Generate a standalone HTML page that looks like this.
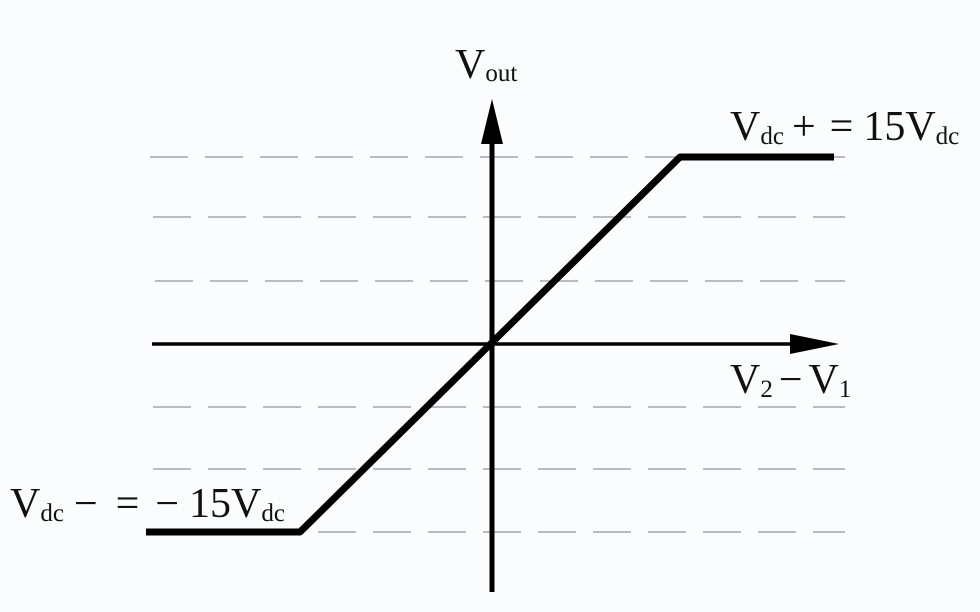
<!DOCTYPE html>
<html><head><style>
html,body{margin:0;padding:0;background:#fbfcfd;}
svg{display:block}
text{font-family:"Liberation Serif",serif;fill:#111;}
</style></head><body>
<svg width="980" height="612" viewBox="0 0 980 612">
<rect width="980" height="612" fill="#fbfcfd"/>
<g stroke="#b8bcc0" stroke-width="2" stroke-dasharray="38 17">
<line x1="150" y1="157" x2="845" y2="157"/>
<line x1="153" y1="217" x2="845" y2="217"/>
<line x1="155" y1="281" x2="845" y2="281"/>
<line x1="153" y1="407" x2="845" y2="407"/>
<line x1="153" y1="469" x2="845" y2="469"/>
<line x1="318" y1="532" x2="845" y2="532"/>
</g>
<line x1="492" y1="140" x2="492" y2="592" stroke="#000" stroke-width="5"/>
<polygon points="492,99 481,144 503,144" fill="#000"/>
<line x1="152" y1="344" x2="795" y2="344" stroke="#000" stroke-width="3.5"/>
<polygon points="839,344 790,334 790,354" fill="#000"/>
<polyline points="146,532 300,532 680,157 834,157" fill="none" stroke="#000" stroke-width="7" stroke-linejoin="round"/>
<text x="455" y="78" font-size="42">V<tspan font-size="25" dy="3">out</tspan></text>
<text x="730" y="140" font-size="42">V<tspan font-size="25" dy="4">dc</tspan><tspan dy="-4" dx="8">+</tspan><tspan dx="14">=</tspan><tspan dx="10">15V</tspan><tspan font-size="25" dy="4">dc</tspan></text>
<text x="730" y="393" font-size="42">V<tspan font-size="25" dy="4">2</tspan><tspan dy="-4" dx="6">−</tspan><tspan dx="6">V</tspan><tspan font-size="25" dy="4">1</tspan></text>
<text x="10" y="517" font-size="42">V<tspan font-size="25" dy="4">dc</tspan><tspan dy="-4" dx="10">−</tspan><tspan dx="18">=</tspan><tspan dx="16">−</tspan><tspan dx="10">15V</tspan><tspan font-size="25" dy="4">dc</tspan></text>
</svg>
</body></html>
